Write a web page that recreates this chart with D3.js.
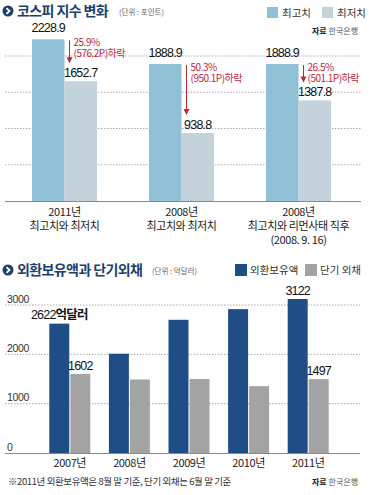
<!DOCTYPE html>
<html><head><meta charset="utf-8">
<script src="https://cdn.jsdelivr.net/npm/d3@7"></script>
<style>
body{margin:0;background:#fff;}
svg{display:block;font-family:"Noto Sans CJK KR","Noto Sans",sans-serif;}
</style></head>
<body>
<script>
// ---- Chart 1: KOSPI ----
const kospiCats = ["2011", "2008", "2008L"];
const kospiCatLines = [["2011년","최고치와 최저치"],["2008년","최고치와 최저치"],["2008년","최고치와 리먼사태 직후","(2008. 9. 16)"]];
const kospiHigh = [2228.9, 1888.9, 1888.9];
const kospiLow = [1652.7, 938.8, 1387.8];
const kospiSeries = ["최고치","최저치"];
const kospiGrid = [500, 1000, 1500, 2000];

// ---- Chart 2: FX reserves ----
const fxYears = ["2007년","2008년","2009년","2010년","2011년"];
const fxReserves = [2622, 2012, 2700, 2916, 3122];
const fxShortDebt = [1602, 1490, 1500, 1355, 1497];
const fxSeries = ["외환보유액","단기 외채"];
const fxTicks = [0, 1000, 2000, 3000];

const W = 369, H = 495;
const svg = d3.select("body").append("svg").attr("width", W).attr("height", H);

const navy = "#1e3f6c";
const red = "#c0263a";
const numFont = "Liberation Sans, Arial, sans-serif";

function titleIcon(x, y) {
  svg.append("circle").attr("cx", x).attr("cy", y).attr("r", 5.5).attr("fill", navy);
  svg.append("path").attr("d", `M${x-1.5},${y-2.8} L${x+1.5},${y} L${x-1.5},${y+2.8}`)
    .attr("fill", "none").attr("stroke", "#fff").attr("stroke-width", 1.8);
}

// ===== Chart 1 =====
titleIcon(8, 11);
svg.append("text").attr("x", 17).attr("y", 16).attr("font-size", 14).attr("font-weight", 700)
  .attr("fill", navy).attr("letter-spacing", -0.6).text("코스피 지수 변화");
svg.append("text").attr("x", 119).attr("y", 15).attr("font-size", 7.5).attr("fill", "#666").text("(단위 : 포인트)");

const c1High = "#8fc0d5", c1Low = "#c3d2db";
const lg1 = [{c: c1High, x: 267, t: kospiSeries[0]}, {c: c1Low, x: 322, t: kospiSeries[1]}];
lg1.forEach(d => {
  svg.append("rect").attr("x", d.x).attr("y", 7).attr("width", 11).attr("height", 11).attr("fill", d.c);
  svg.append("text").attr("x", d.x + 15).attr("y", 16.5).attr("font-size", 10.5).attr("fill", "#333").text(d.t);
});
const src1 = svg.append("text").attr("x", 358).attr("y", 33.5).attr("text-anchor", "end").attr("font-size", 8).attr("fill", "#555");
src1.append("tspan").attr("font-weight", 700).attr("fill", "#222").text("자료 ");
src1.append("tspan").text("한국은행");

const y1 = d3.scaleLinear().domain([0, 2000]).range([201, 56]);
const x1 = d3.scaleBand().domain(kospiCats).range([6, 357]);
const bw1 = 32.5;
const xs1 = d3.scaleBand().domain(kospiSeries).range([x1.bandwidth()/2 - bw1, x1.bandwidth()/2 + bw1]);

svg.append("g").selectAll("line").data(kospiGrid).join("line")
  .attr("x1", 5).attr("x2", 361).attr("y1", d => y1(d)).attr("y2", d => y1(d))
  .attr("stroke", "#aaa").attr("stroke-width", 1).attr("stroke-dasharray", "1.5,1.5");

kospiCats.forEach((c, i) => {
  const gx = x1(c);
  svg.append("rect").attr("x", gx + xs1(kospiSeries[0])).attr("y", y1(kospiHigh[i]))
    .attr("width", xs1.bandwidth()).attr("height", y1(0) - y1(kospiHigh[i])).attr("fill", c1High);
  svg.append("rect").attr("x", gx + xs1(kospiSeries[1])).attr("y", y1(kospiLow[i]))
    .attr("width", xs1.bandwidth()).attr("height", y1(0) - y1(kospiLow[i])).attr("fill", c1Low);
});

svg.append("line").attr("x1", 5).attr("x2", 361).attr("y1", y1(0) + 0.5).attr("y2", y1(0) + 0.5)
  .attr("stroke", "#888").attr("stroke-width", 1);

// value labels + annotations
kospiCats.forEach((c, i) => {
  const gx = x1(c);
  svg.append("text").attr("x", gx + xs1(kospiSeries[0]) + xs1.bandwidth()/2).attr("y", y1(kospiHigh[i]) - 7)
    .attr("text-anchor", "middle").attr("font-size", 12.5).attr("letter-spacing", -0.8).attr("fill", "#111")
    .attr("font-family", numFont).text(kospiHigh[i].toFixed(1));
  svg.append("text").attr("x", gx + xs1(kospiSeries[1]) + xs1.bandwidth()/2).attr("y", y1(kospiLow[i]) - 4)
    .attr("text-anchor", "middle").attr("font-size", 12.5).attr("letter-spacing", -0.8).attr("fill", "#111")
    .attr("font-family", numFont).text(kospiLow[i].toFixed(1));
  // arrow
  const ax = gx + xs1(kospiSeries[1]) + 5;
  const top = y1(kospiHigh[i]) + 1, bot = y1(kospiLow[i]) - 19;
  svg.append("line").attr("x1", ax).attr("x2", ax).attr("y1", top).attr("y2", bot - 4)
    .attr("stroke", red).attr("stroke-width", 1);
  svg.append("path").attr("d", `M${ax-3},${bot-5} L${ax+3},${bot-5} L${ax},${bot+1} Z`).attr("fill", red);
  const drop = kospiHigh[i] - kospiLow[i];
  const pct = drop / kospiHigh[i] * 100;
  const tx = ax + 4;
  const t = svg.append("text").attr("font-size", 10).attr("fill", red).attr("letter-spacing", -0.5);
  t.append("tspan").attr("x", tx).attr("y", top + 6).text(pct.toFixed(1) + "%");
  t.append("tspan").attr("x", tx).attr("y", top + 17).text("(" + drop.toFixed(1) + "P)하락");
});

// category labels
kospiCats.forEach((c, i) => {
  const cx = x1(c) + x1.bandwidth()/2;
  const t = svg.append("text").attr("text-anchor", "middle").attr("font-size", 11).attr("fill", "#222").attr("letter-spacing", -0.4);
  kospiCatLines[i].forEach((l, j) => {
    t.append("tspan").attr("x", cx).attr("y", 216 + j * 14).text(l);
  });
});

// ===== Chart 2 =====
titleIcon(8, 270);
svg.append("text").attr("x", 17).attr("y", 275).attr("font-size", 14).attr("font-weight", 700)
  .attr("fill", navy).attr("letter-spacing", -0.6).text("외환보유액과 단기외채");
svg.append("text").attr("x", 152).attr("y", 274).attr("font-size", 7.5).attr("fill", "#666").text("(단위 : 억달러)");

const cRes = "#1f4e87", cDebt = "#a3a3a3";
const lg2 = [{c: cRes, x: 235, t: fxSeries[0]}, {c: cDebt, x: 305, t: fxSeries[1]}];
lg2.forEach(d => {
  svg.append("rect").attr("x", d.x).attr("y", 264).attr("width", 12).attr("height", 12).attr("fill", d.c);
  svg.append("text").attr("x", d.x + 15).attr("y", 274).attr("font-size", 10.5).attr("fill", "#333").text(d.t);
});

const y2 = d3.scaleLinear().domain([0, 3000]).range([453, 305]);
const x2 = d3.scaleBand().domain(fxYears).range([40, 338]);
const bw2 = 19.5;
const xs2 = d3.scaleBand().domain(fxSeries).range([x2.bandwidth()/2 - bw2 - 1, x2.bandwidth()/2 + bw2 + 1]).paddingInner(0.05);

svg.append("g").selectAll("line").data(fxTicks.filter(d => d > 0)).join("line")
  .attr("x1", 5).attr("x2", 360).attr("y1", d => y2(d)).attr("y2", d => y2(d))
  .attr("stroke", "#aaa").attr("stroke-width", 1).attr("stroke-dasharray", "1.5,1.5");
svg.append("g").selectAll("text").data(fxTicks).join("text")
  .attr("x", 7).attr("y", d => y2(d) - 2.5).attr("font-size", 10.5).attr("fill", "#333")
  .attr("font-family", numFont).attr("letter-spacing", -0.3).text(d => d);

fxYears.forEach((yr, i) => {
  const gx = x2(yr);
  svg.append("rect").attr("x", gx + xs2(fxSeries[0])).attr("y", y2(fxReserves[i]))
    .attr("width", xs2.bandwidth()).attr("height", y2(0) - y2(fxReserves[i])).attr("fill", cRes);
  svg.append("rect").attr("x", gx + xs2(fxSeries[1])).attr("y", y2(fxShortDebt[i]))
    .attr("width", xs2.bandwidth()).attr("height", y2(0) - y2(fxShortDebt[i])).attr("fill", cDebt);
  svg.append("text").attr("x", gx + x2.bandwidth()/2).attr("y", 467).attr("text-anchor", "middle")
    .attr("font-size", 11).attr("fill", "#222").attr("letter-spacing", -0.4).text(yr);
});

svg.append("line").attr("x1", 5).attr("x2", 360).attr("y1", y2(0) + 0.5).attr("y2", y2(0) + 0.5)
  .attr("stroke", "#888").attr("stroke-width", 1);

// value labels: first and last year
function fxLabel(i, series, val) {
  const gx = x2(fxYears[i]);
  const cx = gx + xs2(series) + xs2.bandwidth()/2;
  svg.append("text").attr("x", cx).attr("y", y2(val) - 4).attr("text-anchor", "middle")
    .attr("font-size", 12.5).attr("fill", "#111").attr("letter-spacing", -0.8).attr("font-family", numFont)
    .text(val);
}
{
  const gx = x2(fxYears[0]);
  const cx = gx + xs2(fxSeries[0]) + xs2.bandwidth()/2;
  const t = svg.append("text").attr("x", cx).attr("y", y2(fxReserves[0]) - 5).attr("text-anchor", "middle")
    .attr("font-size", 12.5).attr("fill", "#111").attr("letter-spacing", -0.8);
  t.append("tspan").attr("font-family", numFont).text(fxReserves[0]);
  t.append("tspan").attr("font-weight", 700).text("억달러");
}
fxLabel(0, fxSeries[1], fxShortDebt[0]);
fxLabel(4, fxSeries[0], fxReserves[4]);
fxLabel(4, fxSeries[1], fxShortDebt[4]);

svg.append("text").attr("x", 8).attr("y", 485).attr("font-size", 9.5).attr("fill", "#333").attr("letter-spacing", -0.4)
  .text("※2011년 외환보유액은 8월 말 기준, 단기 외채는 6월 말 기준");
const src2 = svg.append("text").attr("x", 358).attr("y", 485).attr("text-anchor", "end").attr("font-size", 8).attr("fill", "#555");
src2.append("tspan").attr("font-weight", 700).attr("fill", "#222").text("자료 ");
src2.append("tspan").text("한국은행");
</script>
</body></html>
